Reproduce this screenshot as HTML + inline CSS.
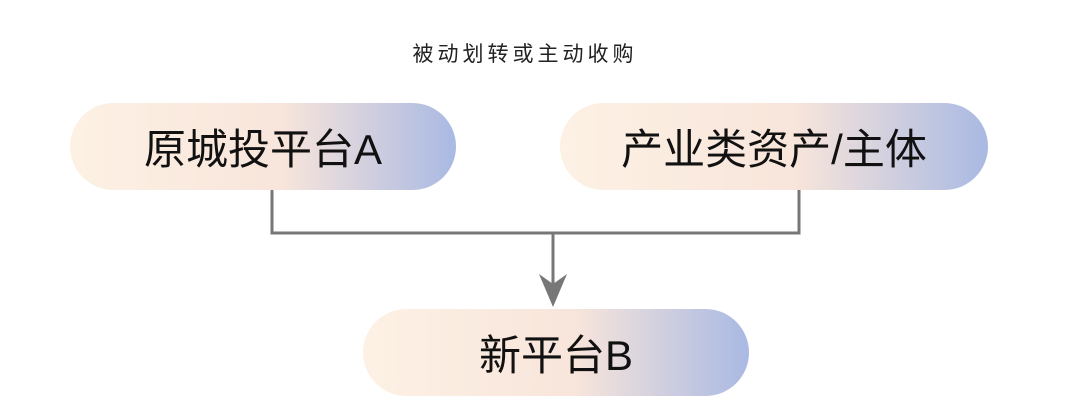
<!DOCTYPE html>
<html><head><meta charset="utf-8"><style>
body{margin:0;width:1080px;height:417px;background:#fff;position:relative;overflow:hidden;font-family:"Liberation Sans","Noto Sans CJK SC",sans-serif;}
.b{position:absolute;border-radius:44px;background:linear-gradient(90deg,#fdf1e4 0%,#f8e5db 55%,#a9b9e3 100%);display:flex;align-items:center;justify-content:center;font-size:42px;color:#111;}
.t{position:absolute;left:0;width:1050px;top:38px;text-align:center;font-size:21px;letter-spacing:4px;color:#222;}
</style></head><body>
<div class="t">被动划转或主动收购</div>
<svg width="1080" height="417" style="position:absolute;left:0;top:0">
<polyline points="272,190 272,233 799,233 799,190" fill="none" stroke="#777" stroke-width="3"/>
<line x1="553" y1="233" x2="553" y2="290" stroke="#777" stroke-width="3"/>
<polygon points="539,274 553,307 567,274 553,284" fill="#777"/>
</svg>
<div class="b" style="left:70px;top:103px;width:386px;height:87px;">原城投平台A</div>
<div class="b" style="left:560px;top:103px;width:428px;height:87px;">产业类资产/主体</div>
<div class="b" style="left:363px;top:309px;width:386px;height:87px;">新平台B</div>
</body></html>
